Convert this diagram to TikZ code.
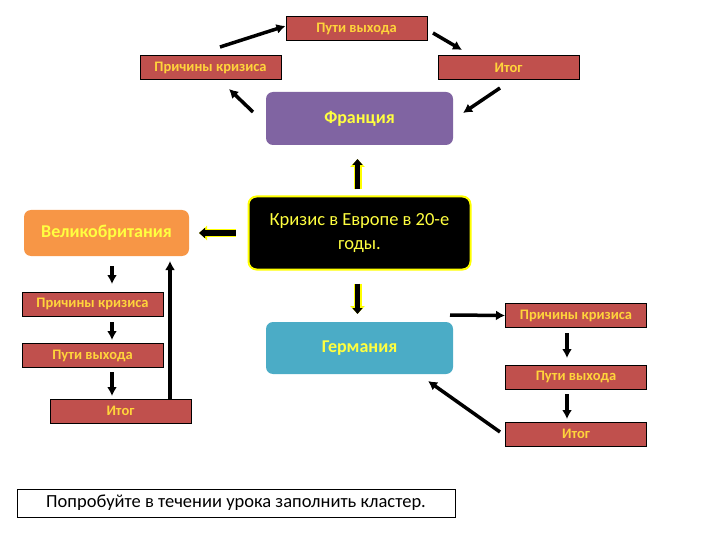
\documentclass[tikz,border=0pt]{standalone}
\usepackage{fontspec}
\setmainfont{Carlito}
\usetikzlibrary{arrows.meta}
\definecolor{boxred}{HTML}{C0504D}
\definecolor{txty}{HTML}{FFD43B}
\definecolor{txtb}{HTML}{FFFF40}
\definecolor{fr}{HTML}{8064A2}
\definecolor{gb}{HTML}{F79646}
\definecolor{de}{HTML}{4BACC6}
\definecolor{glow}{HTML}{FFFF00}
\tikzset{
  redbox/.style={draw=black, line width=1pt, fill=boxred, text=txty, font=\bfseries\fontsize{14.5}{16}\selectfont, minimum width=141pt, minimum height=24pt, inner sep=0pt},
  bigbox/.style={rounded corners=7pt, text=txtb, font=\bfseries\fontsize{18}{21}\selectfont, minimum width=187pt, minimum height=53pt, inner sep=0pt},
  arr/.style={line width=3.5pt, -{Latex[length=9pt,width=10pt]}},
  garr/.style={line width=5pt, -{Triangle[length=6pt,width=10pt]}, draw=black, preaction={draw=glow, line width=8pt, -{Triangle[length=8pt,width=14pt]}}},
}
\begin{document}
\begin{tikzpicture}[x=1pt,y=-1pt]
\useasboundingbox (0,0) rectangle (720,540);
% top cycle
\node[redbox] (tpw) at (356.5,28.5) {Пути выхода};
\node[redbox] (tpk) at (210.5,68) {Причины кризиса};
\node[redbox] (tit) at (508.5,68) {Итог};
\node[bigbox, fill=fr] (fr) at (359.5,118.5) {Франция};
% center
\node[rounded corners=8pt, draw=glow, line width=2pt, fill=black, text=txtb, font=\fontsize{18.5}{24}\selectfont, minimum width=222pt, minimum height=73pt, align=center, inner sep=0pt] (cr) at (359.5,233) {Кризис в Европе в 20-е\\годы.};
\node[bigbox, fill=gb, minimum width=165pt, minimum height=46pt] (gb) at (106.5,233) {Великобритания};
\node[bigbox, fill=de, minimum height=52pt] (de) at (359.5,348) {Германия};
% left column
\node[redbox] (lpk) at (92.5,304) {Причины кризиса};
\node[redbox] (lpw) at (92.5,355.5) {Пути выхода};
\node[redbox] (lit) at (120.5,411) {Итог};
% right column
\node[redbox] (rpk) at (576,315.5) {Причины кризиса};
\node[redbox] (rpw) at (576,377) {Пути выхода};
\node[redbox] (rit) at (576,434) {Итог};
% bottom
\node[draw=black, line width=1pt, fill=white, minimum width=438pt, minimum height=28pt, inner sep=0pt, font=\fontsize{18.5}{22}\selectfont] (note) at (236,503) {Попробуйте в течении урока заполнить кластер.};
% coordinates for arrows
\coordinate (a1s) at (220,47); \coordinate (a1e) at (282,26);
\coordinate (a2s) at (433,33); \coordinate (a2e) at (462,50);
\coordinate (a3s) at (500,88); \coordinate (a3e) at (463,113);
\coordinate (a4s) at (253,112); \coordinate (a4e) at (229,89);
\draw[arr] (a1s) -- (tpw.west|-a1e);
\draw[arr] (a2s) -- (a2e);
\draw[arr] (a3s) -- (a3e);
\draw[arr] (a4s) -- (a4e);
% central glow arrows
\draw[garr] (cr.north) ++(-2,-6) -- (357.5,159);
\draw[garr] (cr.west) ++(-12,0) -- (199,233);
\draw[garr] (cr.south) ++(-2,13) -- (357.5,314);
% left column arrows
\draw[arr] (112,266) -- (112,284);
\draw[arr] (112,322) -- (112,340);
\draw[arr] (112,372) -- (112,396);
\draw[arr] (lit.north-|170,0) -- (170,261);
% right side
\draw[arr] (450,315) -- (rpk.west);
\draw[arr] (567,333) -- (567,358);
\draw[arr] (567,394) -- (567,419);
\coordinate (a5s) at (500,432);
\draw[arr] (a5s) -- (428,381);
\end{tikzpicture}
\end{document}
